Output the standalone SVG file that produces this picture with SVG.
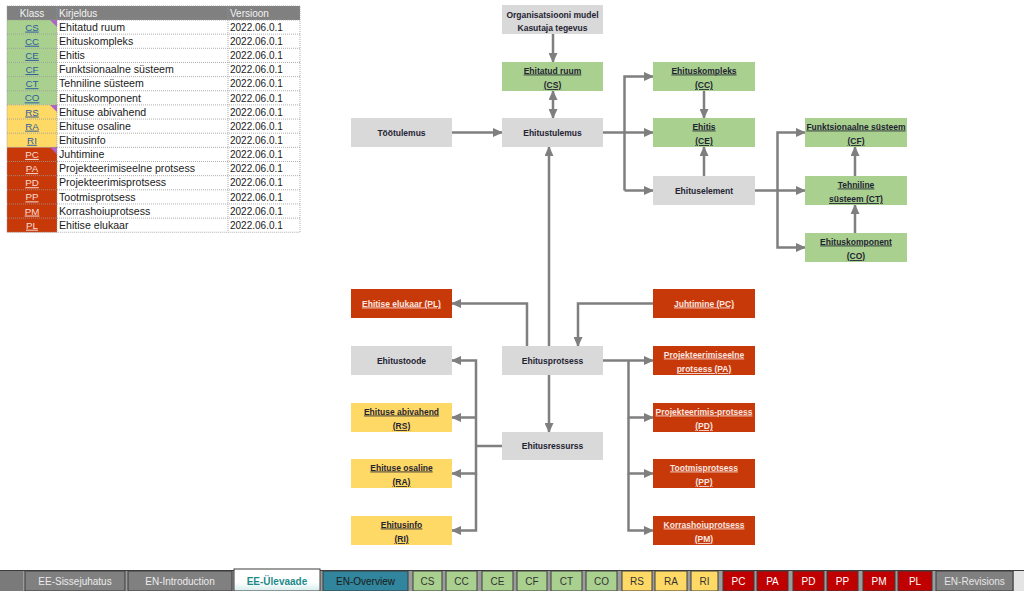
<svg xmlns="http://www.w3.org/2000/svg" width="1024" height="591" viewBox="0 0 1024 591">
<style>
.t{font-family:"Liberation Sans",Arial,sans-serif}
.hd{font-size:10px;fill:#f2f2f2}
.ds{font-size:10.6px;fill:#1a1a1a}
.vr{font-size:10px;fill:#1a1a1a}
.cd{font-size:9.8px;text-decoration:underline;text-anchor:middle}
.cb{fill:#2e5e9e}
.cw{fill:#f6dcd4}
.grid{stroke:#9a9a9a;stroke-width:0.8;stroke-dasharray:1,1;fill:none}
.n{font-size:8.5px;font-weight:bold;text-anchor:middle}
.gray{fill:#d9d9d9}
.green{fill:#a9d08e}
.yellow{fill:#ffd966}
.red{fill:#c8390a}
.dk{fill:#1f2433}
.ul{text-decoration:underline}
.wt{fill:#f8e6e0}
.c{stroke:#7f7f7f;stroke-width:2.5;fill:none}
.ar{marker-end:url(#ah)}
.tab{font-size:10px;text-anchor:middle}
</style>
<defs>
<marker id="ah" markerUnits="userSpaceOnUse" markerWidth="10" markerHeight="9" refX="9" refY="4.5" orient="auto-start-reverse">
<path d="M0,0 L10,4.5 L0,9 z" fill="#7f7f7f"/>
</marker>
<linearGradient id="act" x1="0" y1="0" x2="0" y2="1">
<stop offset="0" stop-color="#ffffff"/>
<stop offset="0.6" stop-color="#ffffff"/>
<stop offset="1" stop-color="#d6ecec"/>
</linearGradient>
</defs>
<rect width="1024" height="591" fill="#ffffff"/>

<g id="table">
<rect x="7" y="6" width="293" height="14" fill="#808080"/>
<text class="t hd" x="32" y="17" text-anchor="middle">Klass</text>
<text class="t hd" x="59" y="17">Kirjeldus</text>
<text class="t hd" x="230" y="17">Versioon</text>
<g id="cells">
<rect x="7" y="20" width="50" height="84.9" fill="#a9d08e"/>
<rect x="7" y="104.9" width="50" height="42.45" fill="#ffd966"/>
<rect x="7" y="147.35" width="50" height="84.9" fill="#c8390a"/>
<path d="M50,20 H57 V27 z" fill="#b060c8"/>
<path d="M50,104.9 H57 V111.9 z" fill="#b060c8"/>
<path d="M50,147.35 H57 V154.35 z" fill="#b060c8"/>
</g>
<path class="grid" d="M7,6 H300 V232.25 H7 Z M57,6 V232.25 M228,6 V232.25 M7,20 H300 M7,34.15 H300 M7,48.3 H300 M7,62.45 H300 M7,76.6 H300 M7,90.75 H300 M7,104.9 H300 M7,119.05 H300 M7,133.2 H300 M7,147.35 H300 M7,161.5 H300 M7,175.65 H300 M7,189.8 H300 M7,203.95 H300 M7,218.1 H300"/>
<g class="t">
<text class="cd cb" x="32" y="30.6">CS</text><text class="ds" x="59" y="30.8">Ehitatud ruum</text><text class="vr" x="230" y="30.8">2022.06.0.1</text>
<text class="cd cb" x="32" y="44.75">CC</text><text class="ds" x="59" y="44.95">Ehituskompleks</text><text class="vr" x="230" y="44.95">2022.06.0.1</text>
<text class="cd cb" x="32" y="58.9">CE</text><text class="ds" x="59" y="59.1">Ehitis</text><text class="vr" x="230" y="59.1">2022.06.0.1</text>
<text class="cd cb" x="32" y="73.05">CF</text><text class="ds" x="59" y="73.25">Funktsionaalne süsteem</text><text class="vr" x="230" y="73.25">2022.06.0.1</text>
<text class="cd cb" x="32" y="87.2">CT</text><text class="ds" x="59" y="87.4">Tehniline süsteem</text><text class="vr" x="230" y="87.4">2022.06.0.1</text>
<text class="cd cb" x="32" y="101.35">CO</text><text class="ds" x="59" y="101.55">Ehituskomponent</text><text class="vr" x="230" y="101.55">2022.06.0.1</text>
<text class="cd cb" x="32" y="115.5">RS</text><text class="ds" x="59" y="115.7">Ehituse abivahend</text><text class="vr" x="230" y="115.7">2022.06.0.1</text>
<text class="cd cb" x="32" y="129.65">RA</text><text class="ds" x="59" y="129.85">Ehituse osaline</text><text class="vr" x="230" y="129.85">2022.06.0.1</text>
<text class="cd cb" x="32" y="143.8">RI</text><text class="ds" x="59" y="144">Ehitusinfo</text><text class="vr" x="230" y="144">2022.06.0.1</text>
<text class="cd cw" x="32" y="157.95">PC</text><text class="ds" x="59" y="158.15">Juhtimine</text><text class="vr" x="230" y="158.15">2022.06.0.1</text>
<text class="cd cw" x="32" y="172.1">PA</text><text class="ds" x="59" y="172.3">Projekteerimiseelne protsess</text><text class="vr" x="230" y="172.3">2022.06.0.1</text>
<text class="cd cw" x="32" y="186.25">PD</text><text class="ds" x="59" y="186.45">Projekteerimisprotsess</text><text class="vr" x="230" y="186.45">2022.06.0.1</text>
<text class="cd cw" x="32" y="200.4">PP</text><text class="ds" x="59" y="200.6">Tootmisprotsess</text><text class="vr" x="230" y="200.6">2022.06.0.1</text>
<text class="cd cw" x="32" y="214.55">PM</text><text class="ds" x="59" y="214.75">Korrashoiuprotsess</text><text class="vr" x="230" y="214.75">2022.06.0.1</text>
<text class="cd cw" x="32" y="228.7">PL</text><text class="ds" x="59" y="228.9">Ehitise elukaar</text><text class="vr" x="230" y="228.9">2022.06.0.1</text>
</g>
</g>

<g id="connectors">
<path class="c ar" d="M553,34 V62"/>
<path class="c ar" d="M553,91 V118" marker-start="url(#ah)"/>
<path class="c ar" d="M452,132.5 H502"/>
<path class="c ar" d="M603,132.5 H653"/>
<path class="c ar" d="M624.5,190.5 V76.5 H653"/>
<path class="c ar" d="M624.5,190.5 H653"/>
<path class="c ar" d="M704,91 V118"/>
<path class="c ar" d="M704,176 V147"/>
<path class="c ar" d="M755,190.5 H805"/>
<path class="c ar" d="M777.5,190.5 V132.5 H805"/>
<path class="c ar" d="M777.5,190.5 V247.5 H805"/>
<path class="c ar" d="M855,176 V147"/>
<path class="c ar" d="M855,233 V205"/>
<path class="c ar" d="M549,346 V147"/>
<path class="c ar" d="M527,346 V303.5 H452"/>
<path class="c ar" d="M653,303.5 H578 V346"/>
<path class="c ar" d="M603,360.5 H653"/>
<path class="c ar" d="M628.5,360.5 V417.5 H653"/>
<path class="c ar" d="M628.5,417.5 V473.5 H653"/>
<path class="c ar" d="M628.5,473.5 V530.5 H653"/>
<path class="c ar" d="M549,375 V432"/>
<path class="c" d="M502,446 H476"/>
<path class="c ar" d="M476,446 V360.5 H452"/>
<path class="c ar" d="M476,417.5 H452"/>
<path class="c ar" d="M476,446 V473.5 H452"/>
<path class="c ar" d="M476,473.5 V530.5 H452"/>
</g>

<g id="n-org"><rect class="gray" x="502" y="5" width="101" height="29"/>
<text class="t n dk" x="552.5" y="18">Organisatsiooni mudel</text><text class="t n dk" x="552.5" y="31">Kasutaja tegevus</text></g>
<g id="n-cs"><rect class="green" x="502" y="62" width="101" height="29"/>
<text class="t n dk ul" x="552.5" y="73.5">Ehitatud ruum</text><text class="t n dk ul" x="552.5" y="88">(CS)</text></g>
<g id="n-tootulemus"><rect class="gray" x="351" y="118" width="101" height="29"/>
<text class="t n dk" x="401.5" y="135.5">Töötulemus</text></g>
<g id="n-ehitustulemus"><rect class="gray" x="502" y="118" width="101" height="29"/>
<text class="t n dk" x="552.5" y="135.5">Ehitustulemus</text></g>
<g id="n-cc"><rect class="green" x="653" y="62" width="102" height="29"/>
<text class="t n dk ul" x="704" y="73.5">Ehituskompleks</text><text class="t n dk ul" x="704" y="88">(CC)</text></g>
<g id="n-ce"><rect class="green" x="653" y="118" width="102" height="29"/>
<text class="t n dk ul" x="704" y="129.5">Ehitis</text><text class="t n dk ul" x="704" y="144">(CE)</text></g>
<g id="n-ehituselement"><rect class="gray" x="653" y="176" width="102" height="29"/>
<text class="t n dk" x="704" y="193.5">Ehituselement</text></g>
<g id="n-cf"><rect class="green" x="805" y="118" width="102" height="29"/>
<text class="t n dk ul" x="856" y="129.5">Funktsionaalne süsteem</text><text class="t n dk ul" x="856" y="144">(CF)</text></g>
<g id="n-ct"><rect class="green" x="805" y="176" width="102" height="29"/>
<text class="t n dk ul" x="856" y="187.5">Tehniline</text><text class="t n dk ul" x="856" y="202">süsteem (CT)</text></g>
<g id="n-co"><rect class="green" x="805" y="233" width="102" height="29"/>
<text class="t n dk ul" x="856" y="244.5">Ehituskomponent</text><text class="t n dk ul" x="856" y="259">(CO)</text></g>
<g id="n-pl"><rect class="red" x="351" y="289" width="101" height="29"/>
<text class="t n wt ul" x="401.5" y="306.5">Ehitise elukaar (PL)</text></g>
<g id="n-pc"><rect class="red" x="653" y="289" width="102" height="29"/>
<text class="t n wt ul" x="704" y="306.5">Juhtimine (PC)</text></g>
<g id="n-ehitustoode"><rect class="gray" x="351" y="346" width="101" height="29"/>
<text class="t n dk" x="401.5" y="363.5">Ehitustoode</text></g>
<g id="n-ehitusprotsess"><rect class="gray" x="502" y="346" width="101" height="29"/>
<text class="t n dk" x="552.5" y="363.5">Ehitusprotsess</text></g>
<g id="n-pa"><rect class="red" x="653" y="346" width="102" height="29"/>
<text class="t n wt ul" x="704" y="357.5">Projekteerimiseelne</text><text class="t n wt ul" x="704" y="372">protsess (PA)</text></g>
<g id="n-rs"><rect class="yellow" x="351" y="403" width="101" height="29"/>
<text class="t n dk ul" x="401.5" y="414.5">Ehituse abivahend</text><text class="t n dk ul" x="401.5" y="429">(RS)</text></g>
<g id="n-pd"><rect class="red" x="653" y="403" width="102" height="29"/>
<text class="t n wt ul" x="704" y="414.5">Projekteerimis-protsess</text><text class="t n wt ul" x="704" y="429">(PD)</text></g>
<g id="n-ehitusressurss"><rect class="gray" x="502" y="432" width="101" height="28"/>
<text class="t n dk" x="552.5" y="449">Ehitusressurss</text></g>
<g id="n-ra"><rect class="yellow" x="351" y="459" width="101" height="29"/>
<text class="t n dk ul" x="401.5" y="470.5">Ehituse osaline</text><text class="t n dk ul" x="401.5" y="485">(RA)</text></g>
<g id="n-pp"><rect class="red" x="653" y="459" width="102" height="29"/>
<text class="t n wt ul" x="704" y="470.5">Tootmisprotsess</text><text class="t n wt ul" x="704" y="485">(PP)</text></g>
<g id="n-ri"><rect class="yellow" x="351" y="516" width="101" height="29"/>
<text class="t n dk ul" x="401.5" y="527.5">Ehitusinfo</text><text class="t n dk ul" x="401.5" y="542">(RI)</text></g>
<g id="n-pm"><rect class="red" x="653" y="516" width="102" height="29"/>
<text class="t n wt ul" x="704" y="527.5">Korrashoiuprotsess</text><text class="t n wt ul" x="704" y="542">(PM)</text></g>

<g id="tabbar">
<rect x="0" y="570" width="1024" height="21" fill="#9c9c9c"/>
<rect x="1014" y="570" width="10" height="21" fill="#e4e4e4"/>
<line x1="0" y1="570.5" x2="1024" y2="570.5" stroke="#3c3c3c" stroke-width="1"/>
<rect x="0" y="571" width="23" height="20" fill="#7a7a7a"/>
<g stroke="#3c3c3c" stroke-width="1">
<rect x="25" y="571" width="100" height="20" fill="#808080"/>
<rect x="128" y="571" width="104" height="20" fill="#808080"/>
<rect x="323" y="571" width="85" height="20" fill="#31859c"/>
<rect x="413" y="571" width="29" height="20" fill="#a9d08e"/>
<rect x="446" y="571" width="31" height="20" fill="#a9d08e"/>
<rect x="482" y="571" width="31" height="20" fill="#a9d08e"/>
<rect x="517" y="571" width="30" height="20" fill="#a9d08e"/>
<rect x="551" y="571" width="31" height="20" fill="#a9d08e"/>
<rect x="586" y="571" width="31" height="20" fill="#a9d08e"/>
<rect x="622" y="571" width="30" height="20" fill="#ffd966"/>
<rect x="655" y="571" width="32" height="20" fill="#ffd966"/>
<rect x="691" y="571" width="27" height="20" fill="#ffd966"/>
<rect x="723" y="571" width="31" height="20" fill="#c00000"/>
<rect x="757" y="571" width="31" height="20" fill="#c00000"/>
<rect x="793" y="571" width="31" height="20" fill="#c00000"/>
<rect x="827" y="571" width="31" height="20" fill="#c00000"/>
<rect x="863" y="571" width="32" height="20" fill="#c00000"/>
<rect x="898" y="571" width="34" height="20" fill="#c00000"/>
<rect x="936" y="571" width="77" height="20" fill="#808080"/>
</g>
<rect x="234" y="569" width="86" height="22" fill="url(#act)" stroke="#3c3c3c" stroke-width="1"/>
<g class="t">
<text class="tab" x="75" y="584.5" fill="#ececec">EE-Sissejuhatus</text>
<text class="tab" x="180" y="584.5" fill="#ececec">EN-Introduction</text>
<text class="tab" x="277" y="584.5" fill="#1f8a8a" font-weight="bold">EE-Ülevaade</text>
<text class="tab" x="365.5" y="584.5" fill="#1a1a1a">EN-Overview</text>
<text class="tab" x="427.5" y="584.5" fill="#333333">CS</text>
<text class="tab" x="461.5" y="584.5" fill="#333333">CC</text>
<text class="tab" x="497.5" y="584.5" fill="#333333">CE</text>
<text class="tab" x="532" y="584.5" fill="#333333">CF</text>
<text class="tab" x="566.5" y="584.5" fill="#333333">CT</text>
<text class="tab" x="601.5" y="584.5" fill="#333333">CO</text>
<text class="tab" x="637" y="584.5" fill="#333333">RS</text>
<text class="tab" x="671" y="584.5" fill="#333333">RA</text>
<text class="tab" x="704.5" y="584.5" fill="#333333">RI</text>
<text class="tab" x="738.5" y="584.5" fill="#ffffff">PC</text>
<text class="tab" x="772.5" y="584.5" fill="#ffffff">PA</text>
<text class="tab" x="808.5" y="584.5" fill="#ffffff">PD</text>
<text class="tab" x="842.5" y="584.5" fill="#ffffff">PP</text>
<text class="tab" x="879" y="584.5" fill="#ffffff">PM</text>
<text class="tab" x="915" y="584.5" fill="#ffffff">PL</text>
<text class="tab" x="974.5" y="584.5" fill="#e6e6e6">EN-Revisions</text>
</g>
</g>
</svg>
